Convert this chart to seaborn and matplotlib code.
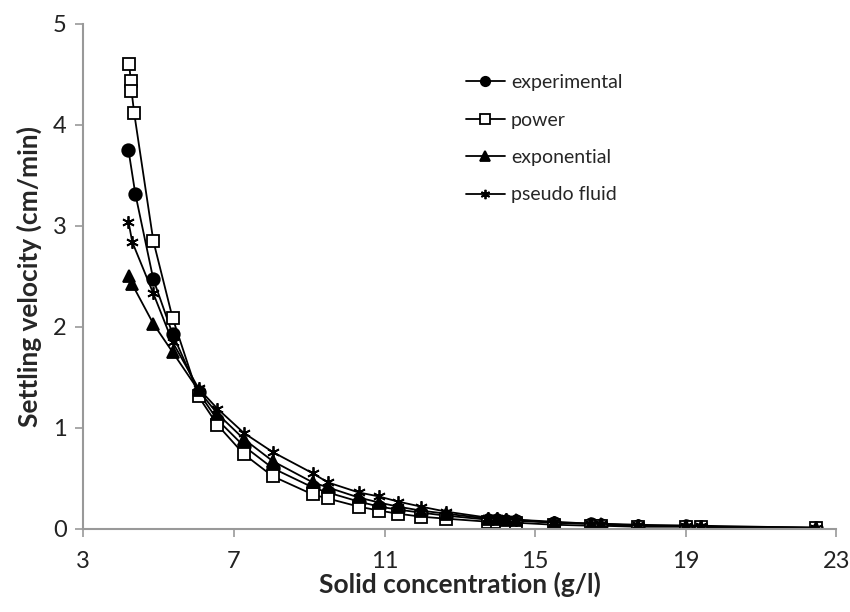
import pandas as pd
import matplotlib.pyplot as plt
import seaborn as sns

# --- DATOS ---
conc_tail = [4.86, 5.37, 6.06, 6.56, 7.26, 8.03, 9.09, 9.49, 10.31, 10.85, 11.35, 11.96,
             12.63, 13.74, 13.98, 14.22, 14.49, 15.5, 16.48, 16.75, 17.73, 19.01, 19.41, 22.47]

exp_conc_head = [4.2, 4.38]
exp_head = [3.75, 3.32]
experimental = [2.47, 1.93, 1.35, 1.08, 0.82, 0.60, 0.41, 0.36, 0.27, 0.22, 0.19, 0.16,
                0.13, 0.09, 0.09, 0.08, 0.08, 0.06, 0.05, 0.04, 0.03, 0.03, 0.02, 0.01]

pow_conc_head = [4.22, 4.26, 4.28, 4.35]
pow_head = [4.60, 4.43, 4.34, 4.12]
power = [2.85, 2.09, 1.31, 1.03, 0.74, 0.52, 0.34, 0.30, 0.22, 0.18, 0.15, 0.12,
         0.10, 0.07, 0.07, 0.06, 0.06, 0.04, 0.03, 0.03, 0.02, 0.02, 0.015, 0.01]

expo_conc_head = [4.22, 4.3]
expo_head = [2.50, 2.42]
exponential = [2.03, 1.75, 1.37, 1.14, 0.89, 0.67, 0.46, 0.41, 0.31, 0.26, 0.22, 0.18,
               0.15, 0.10, 0.10, 0.09, 0.09, 0.06, 0.05, 0.05, 0.03, 0.03, 0.02, 0.01]

pf_conc_head = [4.2, 4.3]
pf_head = [3.04, 2.84]
pseudo_fluid = [2.33, 1.85, 1.39, 1.19, 0.95, 0.76, 0.55, 0.46, 0.36, 0.32, 0.27, 0.22,
                0.17, 0.11, 0.11, 0.10, 0.09, 0.07, 0.05, 0.05, 0.04, 0.03, 0.03, 0.01]

series = [
    ('experimental', exp_conc_head, exp_head, experimental, dict(marker='o', markerfacecolor='black')),
    ('power', pow_conc_head, pow_head, power, dict(marker='s', markerfacecolor='white')),
    ('exponential', expo_conc_head, expo_head, exponential, dict(marker='^', markerfacecolor='black')),
    ('pseudo fluid', pf_conc_head, pf_head, pseudo_fluid, dict(marker=(6, 2, 0), markerfacecolor='black')),
]

# --- GRÁFICO ---
sns.set_theme(style="white")
plt.rcParams['font.family'] = ['Lato', 'DejaVu Sans']

fig = plt.figure(figsize=(8.5, 6.12), dpi=100)
ax = fig.add_axes([0.098, 0.136, 0.886, 0.825])

for nombre, xh, yh, yt, estilo in series:
    df = pd.DataFrame({'conc': xh + conc_tail, 'vel': yh + yt})
    sns.lineplot(data=df, x='conc', y='vel', ax=ax, color='black', linewidth=1.3,
                 markersize=9, markeredgecolor='black', markeredgewidth=1.3,
                 label=nombre, sort=False, **estilo)

ax.set_xlim(3, 23)
ax.set_ylim(0, 5)
ax.set_xticks([3, 7, 11, 15, 19, 23])
ax.set_yticks([0, 1, 2, 3, 4, 5])
ax.tick_params(axis='both', labelsize=17, colors='#999999', labelcolor='#222222',
               length=6, width=1.2, direction='out', bottom=True, left=True)
ax.tick_params(axis='x', pad=10)
ax.tick_params(axis='y', pad=6)
for lado in ['top', 'right']:
    ax.spines[lado].set_visible(False)
for lado in ['left', 'bottom']:
    ax.spines[lado].set_color('#999999')
    ax.spines[lado].set_linewidth(1.5)

ax.set_xlabel('Solid concentration (g/l)', fontsize=19, fontweight='bold', labelpad=0)
ax.set_ylabel('Settling velocity (cm/min)', fontsize=19, fontweight='bold', labelpad=8)

ax.legend(loc='upper left', bbox_to_anchor=(0.485, 0.935), frameon=False, fontsize=14,
          handlelength=2.0, handletextpad=0.3, labelspacing=1.05, markerscale=0.75)

plt.savefig('out.png', dpi=100)
